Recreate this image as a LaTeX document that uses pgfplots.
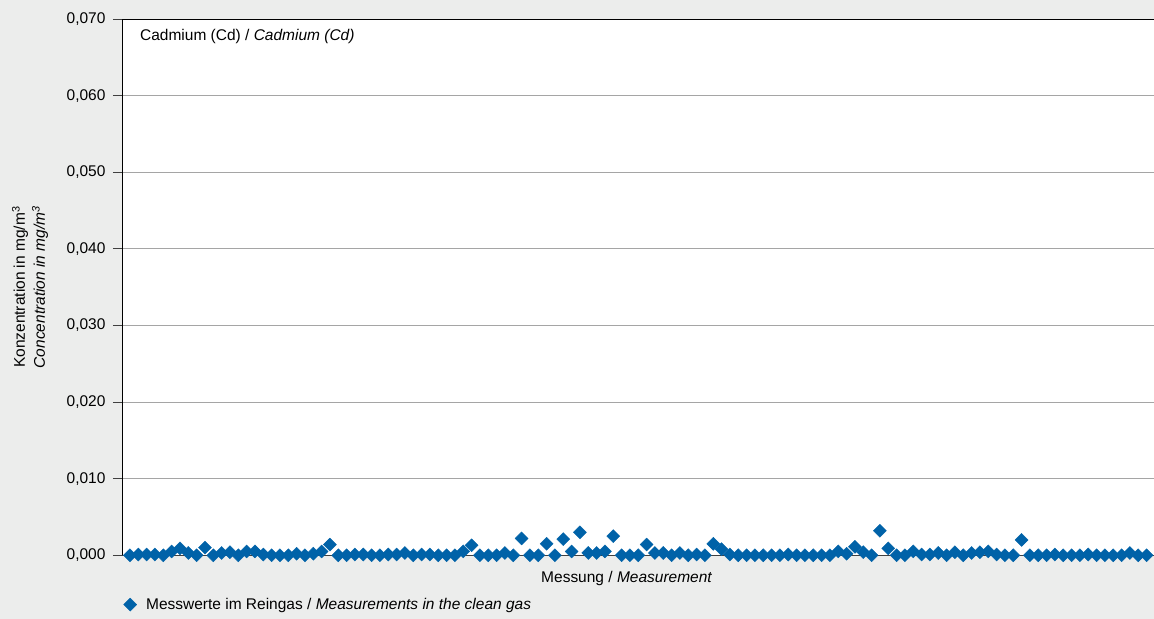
\documentclass[border=0pt]{standalone}
\usepackage{pgfplots}
\pgfplotsset{compat=1.18}
\usepackage{fontspec}
\setmainfont{Liberation Sans}
\definecolor{bg}{RGB}{236,237,236}
\definecolor{pt}{RGB}{0,98,168}
\definecolor{grd}{RGB}{165,165,165}
\pgfplotstableread{
i v
1 0
2 0.0001
3 0.0001
4 0.0001
5 0
6 0.0005
7 0.0009
8 0.0003
9 0
10 0.0010
11 0
12 0.0003
13 0.0004
14 0
15 0.0005
16 0.0005
17 0.0001
18 0
19 0
20 0
21 0.0002
22 0
23 0.0002
24 0.0005
25 0.0014
26 0
27 0
28 0.0001
29 0.0001
30 0
31 0
32 0.0001
33 0.0001
34 0.0003
35 0
36 0.0001
37 0.0001
38 0
39 0
40 0
41 0.0005
42 0.0013
43 0
44 0
45 0
46 0.0003
47 0
48 0.0022
49 0
50 0
51 0.0015
52 0
53 0.0021
54 0.0005
55 0.0030
56 0.0003
57 0.0003
58 0.0005
59 0.0025
60 0
61 0
62 0
63 0.0014
64 0.0003
65 0.0003
66 0
67 0.0003
68 0
69 0.0001
70 0
71 0.0015
72 0.0008
73 0.0001
74 0
75 0
76 0
77 0
78 0
79 0
80 0.0001
81 0
82 0
83 0
84 0
85 0
86 0.0005
87 0.0002
88 0.0011
89 0.0004
90 0
91 0.0032
92 0.0009
93 0
94 0
95 0.0005
96 0.0001
97 0.0001
98 0.0003
99 0
100 0.0004
101 0
102 0.0003
103 0.0004
104 0.0005
105 0.0001
106 0
107 0
108 0.0020
109 0
110 0
111 0
112 0.0001
113 0
114 0
115 0
116 0.0001
117 0
118 0
119 0
120 0
121 0.0003
122 0
123 0
}\data
\begin{document}
\begin{tikzpicture}[x=1bp,y=1bp,font=\fontsize{15.5bp}{19bp}\selectfont]
\fill[bg] (0,0) rectangle (1154,619);
\begin{axis}[
  at={(122bp,63.5bp)}, anchor=south west,
  scale only axis, width=1032bp, height=536.5bp,
  xmin=0.04, xmax=123.84,
  ymin=0, ymax=0.07,
  ytick={0,0.01,...,0.07},
  scaled y ticks=false,
  xtick=\empty,
  axis background/.style={fill=white},
  axis x line*=bottom, axis y line*=left,
  axis line style={black, line width=0.9pt},
  x axis line style={-, draw=black!75},
  y axis line style={-},
  ymajorgrids, grid style={grd, line width=0.7pt},
  tick style={black!75, line width=0.8pt},
  major tick length=9bp, tick align=outside,
  /pgf/number format/fixed, /pgf/number format/fixed zerofill,
  /pgf/number format/precision=3, /pgf/number format/use comma,
  /pgf/number format/assume math mode=true,
  yticklabel style={xshift=-4bp},
  ylabel={Konzentration in mg/m\textsuperscript{3}\\\textit{Concentration in mg/m\textsuperscript{3}}},
  ylabel style={align=center, at={(axis description cs:-0.089,0.5)}, anchor=center, font=\fontsize{15.5bp}{20bp}\selectfont},
  clip=false,
  legend style={at={(axis description cs:0.0,-0.092)}, anchor=west, draw=none, fill=none, inner sep=0pt, legend cell align=left},
  legend image code/.code={\path[draw=none,fill=none] (0bp,-6bp) rectangle (22bp,6bp); \draw[#1, mark=square*, mark size=4.6bp, mark options={rotate=45}] plot coordinates {(8bp,0bp)};},
]
\draw[black, line width=0.9pt] (rel axis cs:0,1) -- (rel axis cs:1,1);
\addplot[only marks, mark=square*, mark size=4.6bp, mark options={rotate=45}, color=pt] table[x=i,y=v] {\data};
\addlegendentry{Messwerte im Reingas / \textit{Measurements in the clean gas}}
\end{axis}
\node[anchor=base west, inner sep=0pt] at (140,578) {Cadmium (Cd) / \textit{Cadmium (Cd)}};
\node[anchor=base, inner sep=0pt] at (627,36) {Messung / \textit{Measurement}};
\end{tikzpicture}
\end{document}
